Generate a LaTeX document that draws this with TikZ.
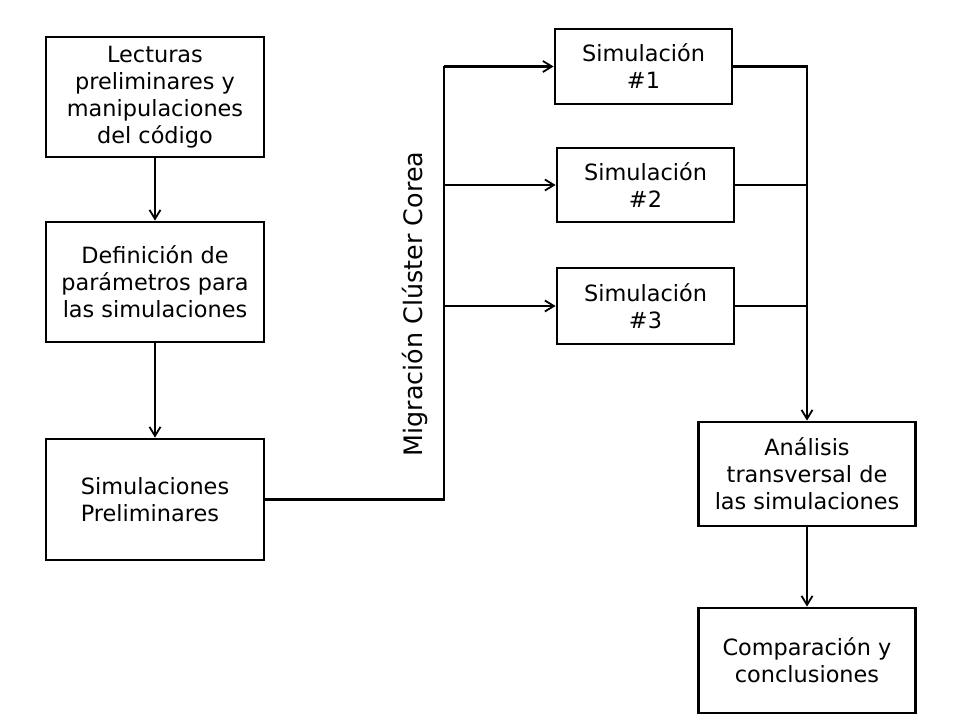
\documentclass[tikz,border=0pt]{standalone}
\usepackage{fontspec}
\setmainfont{DejaVu Sans}
\usetikzlibrary{arrows.meta}
\begin{document}
\begin{tikzpicture}[x=1pt,y=-1pt,
  box/.style={draw, line width=2.8pt, inner sep=0pt, align=center,
    font=\fontsize{22.4}{27}\selectfont},
  conn/.style={line width=2.4pt},
  arr/.style={conn, -{Straight Barb[length=9pt,width=11pt,line width=1.8pt]}}]
\useasboundingbox (0,0) rectangle (971,722);
\node[box, minimum width=218pt, minimum height=120pt] (A) at (155,97)
  {Lecturas\\preliminares y\\manipulaciones\\del código};
\node[box, minimum width=218pt, minimum height=120pt] (B) at (155,282)
  {Definición de\\parámetros para\\las simulaciones};
\node[box, minimum width=218pt, minimum height=121pt, align=left] (C) at (155,499.5)
  {Simulaciones\\Preliminares};
\node[box, minimum width=177pt, minimum height=75pt] (s1) at (643.5,66.5)
  {Simulación\\\#1};
\node[box, minimum width=177pt, minimum height=74pt] (s2) at (645.5,185)
  {Simulación\\\#2};
\node[box, minimum width=177pt, minimum height=76pt] (s3) at (645.5,306)
  {Simulación\\\#3};
\node[box, minimum width=217pt, minimum height=104pt] (an) at (807,474)
  {Análisis\\transversal de\\las simulaciones};
\node[box, minimum width=217pt, minimum height=105pt] (co) at (807,660.5)
  {Comparación y\\conclusiones};
\node[rotate=90, inner sep=0pt, font=\fontsize{25.4}{30}\selectfont] (mig) at (415,304)
  {Migración Clúster Corea};
\coordinate (split) at (444,0);
\draw[arr] (A) -- (B);
\draw[arr] (B) -- (C);
\draw[conn] (C.east) -| (split |- s1.west);
\draw[arr] (split |- s1.west) -- (s1.west);
\draw[arr] (split |- s2.west) -- (s2.west);
\draw[arr] (split |- s3.west) -- (s3.west);
\draw[arr] (s1.east) -| (an.north);
\draw[conn] (s2.east) -- (an.north |- s2.east);
\draw[conn] (s3.east) -- (an.north |- s3.east);
\draw[arr] (an) -- (co);
\end{tikzpicture}
\end{document}
